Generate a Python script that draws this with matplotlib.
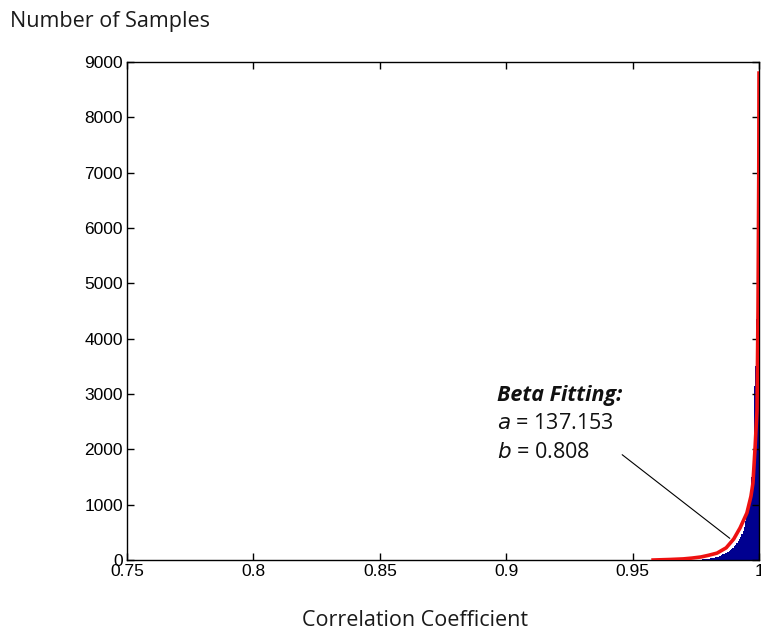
import numpy as np
import matplotlib
matplotlib.use("Agg")
import matplotlib.pyplot as plt

# histogram of correlation coefficients (bin left edges, counts)
bin_width = 0.0005
bin_left = [0.9750, 0.9755, 0.9760, 0.9765, 0.9770, 0.9775, 0.9780, 0.9785,
            0.9790, 0.9795,
            0.9800, 0.9805, 0.9810, 0.9815, 0.9820, 0.9825, 0.9830, 0.9835,
            0.9840, 0.9845, 0.9850, 0.9855, 0.9860, 0.9865, 0.9870, 0.9875,
            0.9880, 0.9885, 0.9890, 0.9895, 0.9900, 0.9905, 0.9910, 0.9915,
            0.9920, 0.9925, 0.9930, 0.9935, 0.9940, 0.9945, 0.9950, 0.9955,
            0.9960, 0.9965, 0.9970, 0.9975, 0.9980, 0.9985, 0.9990, 0.9995]
counts = [4, 5, 6, 8, 9, 10, 12, 14,
          16, 18,
          22, 28, 32, 38, 42, 48, 55, 62,
          70, 80, 90, 100, 110, 122, 135, 150,
          165, 185, 205, 225, 250, 275, 305, 340,
          380, 420, 470, 520, 600, 700, 820, 950,
          1100, 1250, 1500, 1900, 3150, 3500, 4350, 4400]

# fitted beta curve
fit_x = [0.9581, 0.965, 0.970, 0.9735, 0.977, 0.980, 0.9834, 0.987, 0.990,
         0.9925, 0.9952, 0.9968, 0.9976, 0.9984, 0.9992, 0.9996, 0.9999, 1.0]
fit_y = [0, 10, 20, 35, 55, 85, 125, 220, 380,
         580, 850, 1150, 1390, 2000, 2700, 4500, 7000, 8800]

x_ticks = [0.75, 0.8, 0.85, 0.9, 0.95, 1.0]
x_tick_labels = ["0.75", "0.8", "0.85", "0.9", "0.95", "1"]
y_ticks = [0, 1000, 2000, 3000, 4000, 5000, 6000, 7000, 8000, 9000]

plt.rcParams['font.family'] = ['Liberation Sans', 'DejaVu Sans']

fig = plt.figure(figsize=(7.61, 6.32), dpi=100)
ax = fig.add_axes([0.1669, 0.1139, 0.8305, 0.788])

ax.bar(bin_left, counts, width=bin_width, align='edge',
       color='#000090', edgecolor='none')
ax.plot(fit_x, fit_y, color='#ee1111', linewidth=2.6, zorder=3)

ax.set_xlim(0.75, 1.0)
ax.set_ylim(0, 9000)
ax.set_xticks(x_ticks)
ax.set_xticklabels(x_tick_labels)
ax.set_yticks(y_ticks)
ax.tick_params(direction='in', length=5, width=1, top=True, right=True,
               labelsize=12.5, pad=3)
for s in ax.spines.values():
    s.set_linewidth(1.0)

# annotation
txt_font = ['Open Sans', 'DejaVu Sans']
ax.text(0.8964, 2982, "Beta Fitting:", fontsize=15.5, fontweight='bold',
        fontstyle='italic', family=txt_font, va='center', color='#111111')
ax.text(0.8964, 2476, r"$\it{a}$ = 137.153", fontsize=15.5, family=txt_font,
        va='center', color='#111111')
ax.text(0.8964, 1934, r"$\it{b}$ = 0.808", fontsize=15.5, family=txt_font,
        va='center', color='#111111')
ax.annotate("", xy=(0.9893, 361), xytext=(0.9450, 1934),
            arrowprops=dict(arrowstyle='-', color='black', lw=0.8))

fig.text(10 / 761, 1 - 22 / 632, "Number of Samples", fontsize=15.5,
         family=txt_font, color='#1a1a1a', va='center', ha='left')
fig.text(415 / 761, 1 - 620 / 632, "Correlation Coefficient", fontsize=15.5,
         family=txt_font, color='#1a1a1a', va='center', ha='center')

plt.savefig("out.png", dpi=100)
